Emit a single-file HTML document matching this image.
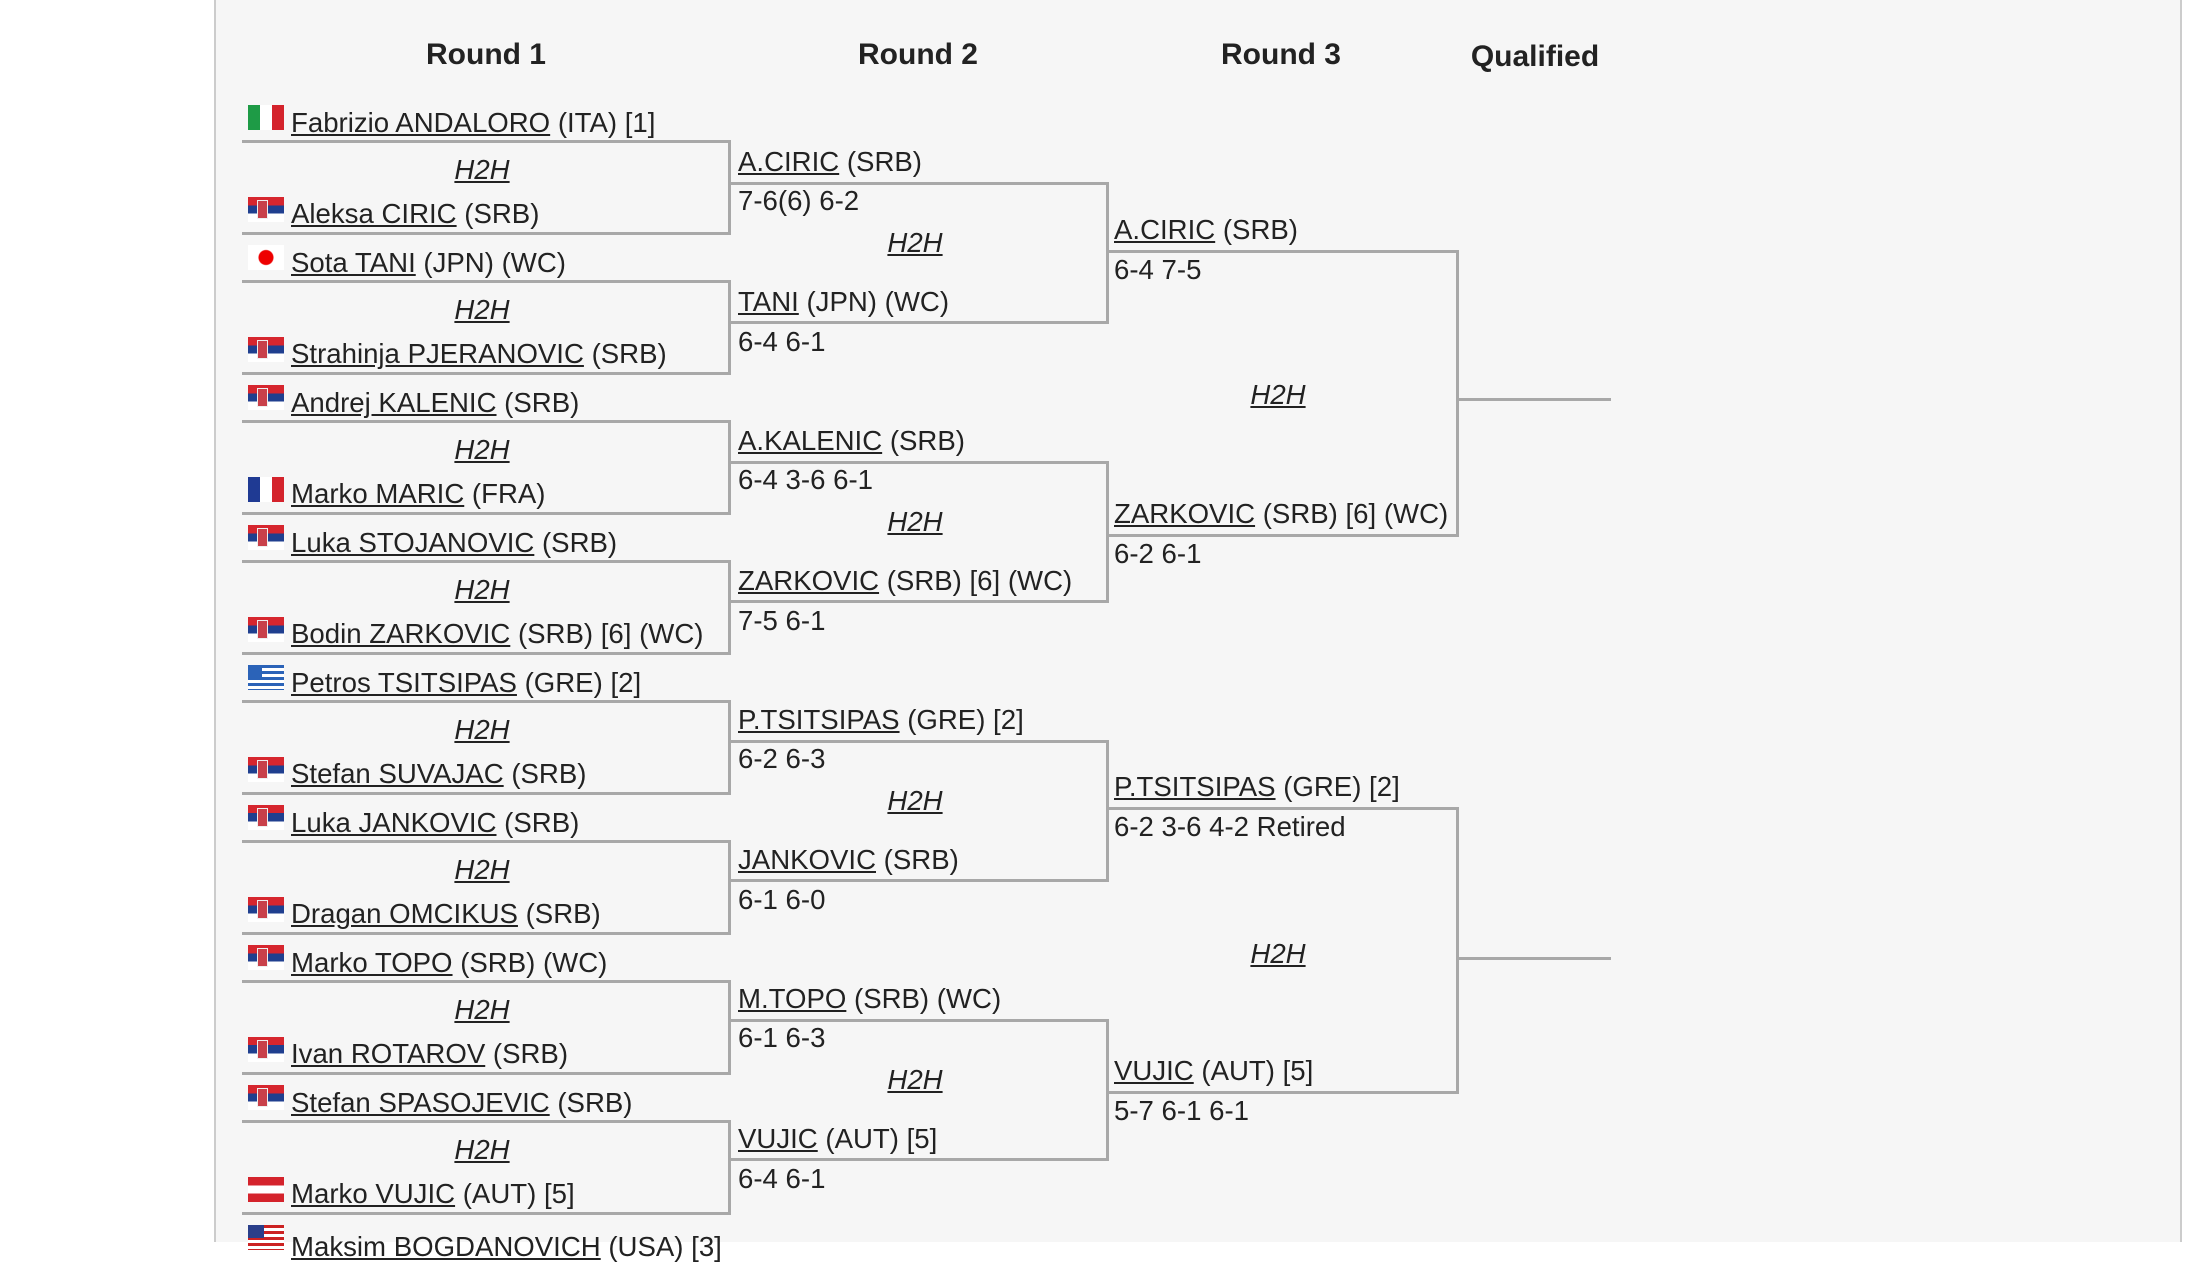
<!DOCTYPE html>
<html><head><meta charset="utf-8"><style>
*{margin:0;padding:0;box-sizing:border-box}
body{width:2208px;height:1242px;overflow:hidden;background:#fff;font-family:"Liberation Sans",Arial,sans-serif;color:#222;position:relative}
#pg{position:absolute;left:214px;top:0;width:1968px;height:1242px;background:#f6f6f6;border-left:2px solid #ccc;border-right:2px solid #ccc}
.t{position:absolute;font-size:27.6px;line-height:30px;white-space:nowrap;margin-top:-1px}
.t u{text-decoration:underline}
.h{position:absolute;font-size:27.6px;line-height:30px;font-style:italic;text-decoration:underline;white-space:nowrap;transform:translateX(-50%);margin-top:-1px}
.hd{position:absolute;font-size:30px;font-weight:bold;line-height:34px;transform:translateX(-50%);white-space:nowrap}
.l{position:absolute;background:#a8a8a8}
.f{position:absolute;width:36px;height:25px;left:248px}
.srb{background:linear-gradient(#d6262e 0 33%,#1f3f8f 33% 66%,#fff 66%)}
.srb::after{content:"";position:absolute;left:9px;top:3px;width:9px;height:17px;background:#c8404a;border:1px solid #eee}
.ita{background:linear-gradient(90deg,#1e9b46 0 33%,#fff 33% 66%,#d4232c 66%)}
.fra{background:linear-gradient(90deg,#1f3a93 0 33%,#fff 33% 66%,#d4232c 66%)}
.jpn{background:radial-gradient(circle at 50% 50%,#e00 0 7px,#fff 8px)}
.aut{background:linear-gradient(#d4232c 0 33%,#fff 33% 66%,#d4232c 66%)}
.gre{background:repeating-linear-gradient(#2b63b8 0 3px,#fff 3px 6px)}
.usa{background:repeating-linear-gradient(#c22 0 3px,#fff 3px 6px)}
.usa::after{content:"";position:absolute;left:0;top:0;width:16px;height:13px;background:#2a3f8a}
.gre::after{content:"";position:absolute;left:0;top:0;width:14px;height:14px;background:#2b63b8}
</style></head><body>
<div id="pg"></div>
<div class="hd" style="left:486px;top:38px">Round 1</div>
<div class="hd" style="left:918px;top:38px">Round 2</div>
<div class="hd" style="left:1281px;top:38px">Round 3</div>
<div class="hd" style="left:1535px;top:40px">Qualified</div>

<!-- Round 1 boxes -->
<div class="l" style="left:242px;top:140px;width:489px;height:3px"></div><div class="l" style="left:242px;top:232px;width:489px;height:3px"></div><div class="l" style="left:728px;top:140px;width:3px;height:95px"></div>
<div class="l" style="left:242px;top:280px;width:489px;height:3px"></div><div class="l" style="left:242px;top:372px;width:489px;height:3px"></div><div class="l" style="left:728px;top:280px;width:3px;height:95px"></div>
<div class="l" style="left:242px;top:420px;width:489px;height:3px"></div><div class="l" style="left:242px;top:512px;width:489px;height:3px"></div><div class="l" style="left:728px;top:420px;width:3px;height:95px"></div>
<div class="l" style="left:242px;top:560px;width:489px;height:3px"></div><div class="l" style="left:242px;top:652px;width:489px;height:3px"></div><div class="l" style="left:728px;top:560px;width:3px;height:95px"></div>
<div class="l" style="left:242px;top:700px;width:489px;height:3px"></div><div class="l" style="left:242px;top:792px;width:489px;height:3px"></div><div class="l" style="left:728px;top:700px;width:3px;height:95px"></div>
<div class="l" style="left:242px;top:840px;width:489px;height:3px"></div><div class="l" style="left:242px;top:932px;width:489px;height:3px"></div><div class="l" style="left:728px;top:840px;width:3px;height:95px"></div>
<div class="l" style="left:242px;top:980px;width:489px;height:3px"></div><div class="l" style="left:242px;top:1072px;width:489px;height:3px"></div><div class="l" style="left:728px;top:980px;width:3px;height:95px"></div>
<div class="l" style="left:242px;top:1120px;width:489px;height:3px"></div><div class="l" style="left:242px;top:1212px;width:489px;height:3px"></div><div class="l" style="left:728px;top:1120px;width:3px;height:95px"></div>

<!-- Round 1 text -->
<div class="f ita" style="top:105px"></div><div class="t" style="left:291px;top:109px"><u>Fabrizio ANDALORO</u> (ITA) [1]</div>
<div class="h" style="left:482px;top:156px">H2H</div>
<div class="f srb" style="top:197px"></div><div class="t" style="left:291px;top:200px"><u>Aleksa CIRIC</u> (SRB)</div>

<div class="f jpn" style="top:245px"></div><div class="t" style="left:291px;top:249px"><u>Sota TANI</u> (JPN) (WC)</div>
<div class="h" style="left:482px;top:296px">H2H</div>
<div class="f srb" style="top:337px"></div><div class="t" style="left:291px;top:340px"><u>Strahinja PJERANOVIC</u> (SRB)</div>

<div class="f srb" style="top:385px"></div><div class="t" style="left:291px;top:389px"><u>Andrej KALENIC</u> (SRB)</div>
<div class="h" style="left:482px;top:436px">H2H</div>
<div class="f fra" style="top:477px"></div><div class="t" style="left:291px;top:480px"><u>Marko MARIC</u> (FRA)</div>

<div class="f srb" style="top:525px"></div><div class="t" style="left:291px;top:529px"><u>Luka STOJANOVIC</u> (SRB)</div>
<div class="h" style="left:482px;top:576px">H2H</div>
<div class="f srb" style="top:617px"></div><div class="t" style="left:291px;top:620px"><u>Bodin ZARKOVIC</u> (SRB) [6] (WC)</div>

<div class="f gre" style="top:665px"></div><div class="t" style="left:291px;top:669px"><u>Petros TSITSIPAS</u> (GRE) [2]</div>
<div class="h" style="left:482px;top:716px">H2H</div>
<div class="f srb" style="top:757px"></div><div class="t" style="left:291px;top:760px"><u>Stefan SUVAJAC</u> (SRB)</div>

<div class="f srb" style="top:805px"></div><div class="t" style="left:291px;top:809px"><u>Luka JANKOVIC</u> (SRB)</div>
<div class="h" style="left:482px;top:856px">H2H</div>
<div class="f srb" style="top:897px"></div><div class="t" style="left:291px;top:900px"><u>Dragan OMCIKUS</u> (SRB)</div>

<div class="f srb" style="top:945px"></div><div class="t" style="left:291px;top:949px"><u>Marko TOPO</u> (SRB) (WC)</div>
<div class="h" style="left:482px;top:996px">H2H</div>
<div class="f srb" style="top:1037px"></div><div class="t" style="left:291px;top:1040px"><u>Ivan ROTAROV</u> (SRB)</div>

<div class="f srb" style="top:1085px"></div><div class="t" style="left:291px;top:1089px"><u>Stefan SPASOJEVIC</u> (SRB)</div>
<div class="h" style="left:482px;top:1136px">H2H</div>
<div class="f aut" style="top:1177px"></div><div class="t" style="left:291px;top:1180px"><u>Marko VUJIC</u> (AUT) [5]</div>

<div class="f usa" style="top:1225px"></div><div class="t" style="left:291px;top:1233px"><u>Maksim BOGDANOVICH</u> (USA) [3]</div>

<!-- Round 2 boxes -->
<div class="l" style="left:729px;top:182px;width:380px;height:3px"></div><div class="l" style="left:729px;top:321px;width:380px;height:3px"></div><div class="l" style="left:1106px;top:182px;width:3px;height:142px"></div>
<div class="l" style="left:729px;top:461px;width:380px;height:3px"></div><div class="l" style="left:729px;top:600px;width:380px;height:3px"></div><div class="l" style="left:1106px;top:461px;width:3px;height:142px"></div>
<div class="l" style="left:729px;top:740px;width:380px;height:3px"></div><div class="l" style="left:729px;top:879px;width:380px;height:3px"></div><div class="l" style="left:1106px;top:740px;width:3px;height:142px"></div>
<div class="l" style="left:729px;top:1019px;width:380px;height:3px"></div><div class="l" style="left:729px;top:1158px;width:380px;height:3px"></div><div class="l" style="left:1106px;top:1019px;width:3px;height:142px"></div>

<div class="t" style="left:738px;top:148px"><u>A.CIRIC</u> (SRB)</div>
<div class="t" style="left:738px;top:187px">7-6(6) 6-2</div>
<div class="h" style="left:915px;top:229px">H2H</div>
<div class="t" style="left:738px;top:288px"><u>TANI</u> (JPN) (WC)</div>
<div class="t" style="left:738px;top:328px">6-4 6-1</div>

<div class="t" style="left:738px;top:427px"><u>A.KALENIC</u> (SRB)</div>
<div class="t" style="left:738px;top:466px">6-4 3-6 6-1</div>
<div class="h" style="left:915px;top:508px">H2H</div>
<div class="t" style="left:738px;top:567px"><u>ZARKOVIC</u> (SRB) [6] (WC)</div>
<div class="t" style="left:738px;top:607px">7-5 6-1</div>

<div class="t" style="left:738px;top:706px"><u>P.TSITSIPAS</u> (GRE) [2]</div>
<div class="t" style="left:738px;top:745px">6-2 6-3</div>
<div class="h" style="left:915px;top:787px">H2H</div>
<div class="t" style="left:738px;top:846px"><u>JANKOVIC</u> (SRB)</div>
<div class="t" style="left:738px;top:886px">6-1 6-0</div>

<div class="t" style="left:738px;top:985px"><u>M.TOPO</u> (SRB) (WC)</div>
<div class="t" style="left:738px;top:1024px">6-1 6-3</div>
<div class="h" style="left:915px;top:1066px">H2H</div>
<div class="t" style="left:738px;top:1125px"><u>VUJIC</u> (AUT) [5]</div>
<div class="t" style="left:738px;top:1165px">6-4 6-1</div>

<!-- Round 3 -->
<div class="l" style="left:1107px;top:250px;width:352px;height:3px"></div><div class="l" style="left:1107px;top:534px;width:352px;height:3px"></div><div class="l" style="left:1456px;top:250px;width:3px;height:287px"></div>
<div class="l" style="left:1459px;top:398px;width:152px;height:3px"></div>
<div class="l" style="left:1107px;top:807px;width:352px;height:3px"></div><div class="l" style="left:1107px;top:1091px;width:352px;height:3px"></div><div class="l" style="left:1456px;top:807px;width:3px;height:287px"></div>
<div class="l" style="left:1459px;top:957px;width:152px;height:3px"></div>

<div class="t" style="left:1114px;top:216px"><u>A.CIRIC</u> (SRB)</div>
<div class="t" style="left:1114px;top:256px">6-4 7-5</div>
<div class="h" style="left:1278px;top:381px">H2H</div>
<div class="t" style="left:1114px;top:500px"><u>ZARKOVIC</u> (SRB) [6] (WC)</div>
<div class="t" style="left:1114px;top:540px">6-2 6-1</div>

<div class="t" style="left:1114px;top:773px"><u>P.TSITSIPAS</u> (GRE) [2]</div>
<div class="t" style="left:1114px;top:813px">6-2 3-6 4-2 Retired</div>
<div class="h" style="left:1278px;top:940px">H2H</div>
<div class="t" style="left:1114px;top:1057px"><u>VUJIC</u> (AUT) [5]</div>
<div class="t" style="left:1114px;top:1097px">5-7 6-1 6-1</div>
</body></html>
